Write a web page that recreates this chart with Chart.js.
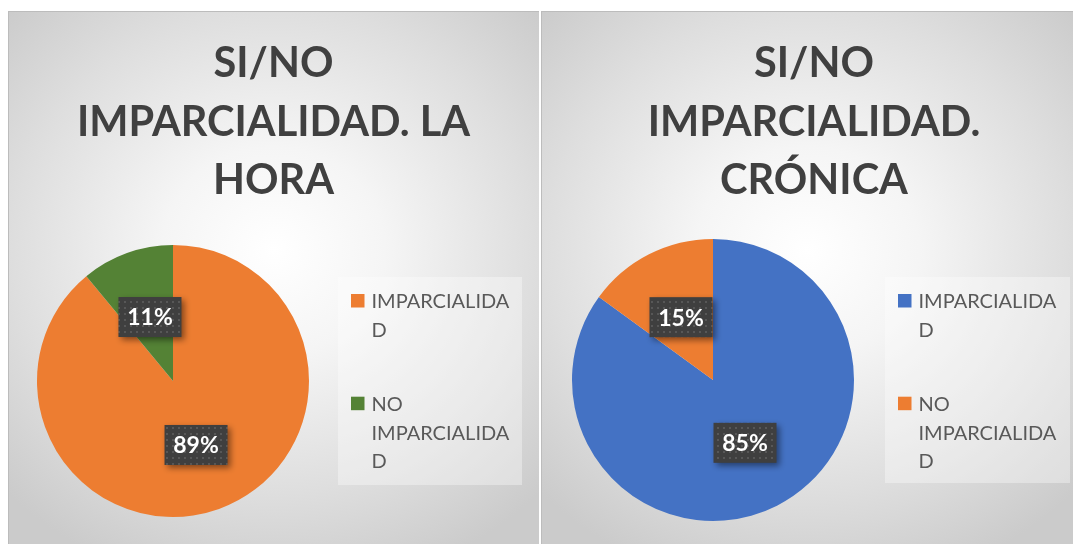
<!DOCTYPE html>
<html>
<head>
<meta charset="utf-8">
<script src="https://cdn.jsdelivr.net/npm/chart.js@4.4.1/dist/chart.umd.min.js"></script>
<style>
  html, body { margin: 0; padding: 0; background: #fff; }
  body { width: 1073px; height: 544px; position: relative; overflow: hidden; }
  .panel {
    position: absolute; top: 11px; height: 533px;
    background: radial-gradient(ellipse 70% 65% at 50% 45%, #ffffff 0%, #f5f5f5 30%, #dedede 70%, #cbcbcb 100%);
    box-shadow: inset 1px 1px 0 #bcbcbc;
  }
  #p1 { left: 8px; width: 531px; }
  #p2 { left: 541px; width: 532px; }
  canvas { position: absolute; left: 0; top: 0; }
</style>
</head>
<body>
<div class="panel" id="p1"><canvas id="chartHora" width="531" height="533"></canvas></div>
<div class="panel" id="p2"><canvas id="chartCronica" width="532" height="533"></canvas></div>
<script>
// data
var categories = ['IMPARCIALIDAD', 'NO IMPARCIALIDAD'];
var titleHora = ['SI/NO', 'IMPARCIALIDAD. LA', 'HORA'];
var titleCronica = ['SI/NO', 'IMPARCIALIDAD.', 'CRÓNICA'];
var valuesHora = [89, 11];
var valuesCronica = [85, 15];
var colorsHora = ['#ED7D31', '#548235'];
var colorsCronica = ['#4472C4', '#ED7D31'];

var FONT = 'Lato, Carlito, Calibri, sans-serif';

// dotted dark fill used behind the data labels
function labelPattern(ctx) {
  var c = document.createElement('canvas');
  c.width = 6; c.height = 6;
  var g = c.getContext('2d');
  g.fillStyle = '#3f3f3f';
  g.fillRect(0, 0, 6, 6);
  g.fillStyle = '#575757';
  g.fillRect(2, 2, 2, 2);
  return ctx.createPattern(c, 'repeat');
}

// break a label into lines that fit maxWidth (chars too, like Excel does)
function wrapText(ctx, text, maxWidth) {
  var lines = [];
  text.split(' ').forEach(function(word) {
    var cur = '';
    for (var i = 0; i < word.length; i++) {
      var test = cur + word[i];
      if (cur && ctx.measureText(test).width > maxWidth) {
        lines.push(cur);
        cur = word[i];
      } else {
        cur = test;
      }
    }
    lines.push(cur);
  });
  return lines;
}

var excelLook = {
  id: 'excelLook',
  afterDatasetsDraw: function(chart) {
    var ctx = chart.ctx;
    var o = chart.options.plugins.excelLook;
    var ds = chart.data.datasets[0];
    var total = ds.data.reduce(function(a, b) { return a + b; }, 0);

    // title
    ctx.save();
    ctx.fillStyle = '#404040';
    ctx.font = 'bold 41.5px ' + FONT;
    ctx.textAlign = 'center';
    ctx.textBaseline = 'alphabetic';
    o.title.forEach(function(line, i) {
      ctx.fillText(line, o.titleX, o.titleY + i * 58.6);
    });
    ctx.restore();

    // data labels
    var meta = chart.getDatasetMeta(0);
    meta.data.forEach(function(arc, i) {
      var p = arc.getProps(['x', 'y', 'startAngle', 'endAngle', 'outerRadius'], true);
      var mid = (p.startAngle + p.endAngle) / 2;
      var cx = p.x + Math.cos(mid) * p.outerRadius * 0.5;
      var cy = p.y + Math.sin(mid) * p.outerRadius * 0.5;
      var w = 63, h = 40;
      ctx.save();
      ctx.shadowColor = 'rgba(0,0,0,0.45)';
      ctx.shadowBlur = 6;
      ctx.shadowOffsetX = 3;
      ctx.shadowOffsetY = 3;
      ctx.fillStyle = labelPattern(ctx);
      ctx.fillRect(cx - w / 2, cy - h / 2, w, h);
      ctx.restore();
      ctx.save();
      ctx.fillStyle = '#ffffff';
      ctx.font = 'bold 23px ' + FONT;
      ctx.textAlign = 'center';
      ctx.textBaseline = 'middle';
      ctx.fillText(Math.round(ds.data[i] / total * 100) + '%', cx, cy + 1);
      ctx.restore();
    });

    // legend
    var b = o.legendBox;
    ctx.save();
    ctx.fillStyle = 'rgba(255,255,255,0.35)';
    ctx.fillRect(b.x, b.y, b.w, b.h);
    ctx.font = '20px ' + FONT;
    ctx.textAlign = 'left';
    ctx.textBaseline = 'alphabetic';
    var base = b.y + 31.3;
    chart.data.labels.forEach(function(label, i) {
      ctx.fillStyle = ds.backgroundColor[i];
      ctx.fillRect(b.x + 13, base - 14.3, 13.5, 13.5);
      ctx.fillStyle = '#595959';
      var lines = wrapText(ctx, label, b.w - 40);
      lines.forEach(function(line, j) {
        ctx.fillText(line, b.x + 33.5, base + j * 28.7);
      });
      base += lines.length * 28.7 + 45.3;
    });
    ctx.restore();
  }
};

function makePie(id, title, values, colors, padding, titleX, legendBox) {
  var ctx = document.getElementById(id).getContext('2d');
  return new Chart(ctx, {
    type: 'pie',
    data: {
      labels: categories,
      datasets: [{
        data: values,
        backgroundColor: colors,
        borderWidth: 0
      }]
    },
    options: {
      responsive: false,
      animation: false,
      layout: { padding: padding },
      plugins: {
        legend: { display: false },
        tooltip: { enabled: false },
        excelLook: {
          title: title,
          titleX: titleX,
          titleY: 66,
          legendBox: legendBox
        }
      }
    },
    plugins: [excelLook]
  });
}

makePie('chartHora', titleHora, valuesHora, colorsHora,
  { left: 29, top: 234, right: 230, bottom: 27 }, 265.5,
  { x: 330, y: 266, w: 184, h: 208 });

makePie('chartCronica', titleCronica, valuesCronica, colorsCronica,
  { left: 31, top: 228, right: 219, bottom: 23 }, 273,
  { x: 344, y: 266, w: 185, h: 206 });
</script>
</body>
</html>
